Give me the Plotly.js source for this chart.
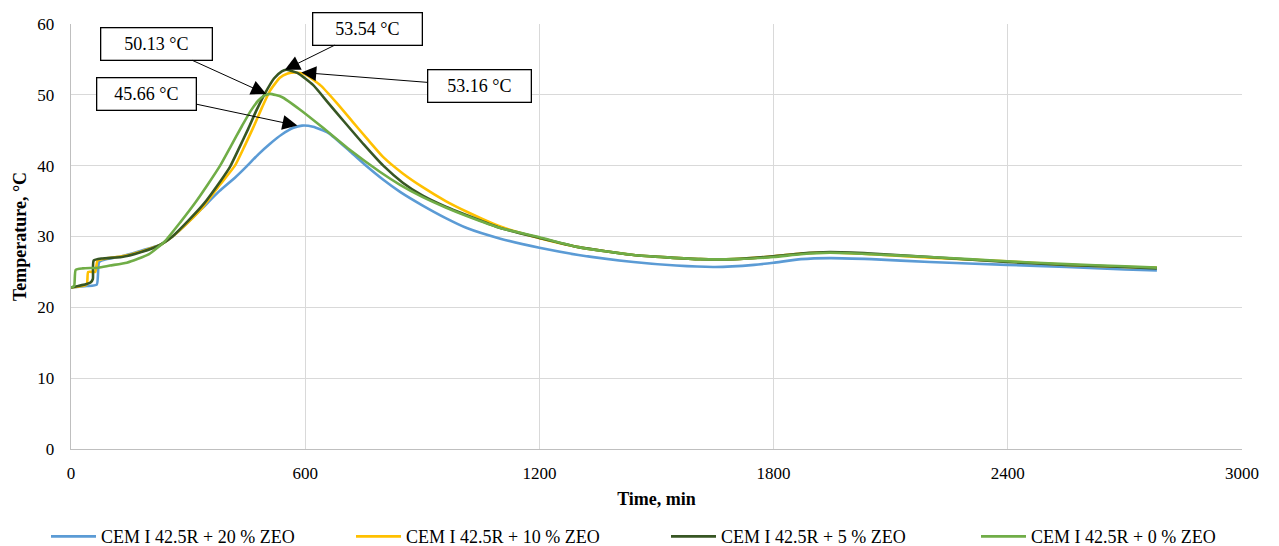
<!DOCTYPE html>
<html>
<head>
<meta charset="utf-8">
<script src="https://cdn.plot.ly/plotly-3.0.1.min.js"></script>
<style>
  html, body { margin: 0; padding: 0; background: #fff; }
  #chart { width: 1279px; height: 546px; }
</style>
</head>
<body>
<div id="chart"></div>
<script>
// Hydration temperature of cement pastes with zeolite replacement

const seriesNames = [
  'CEM I 42.5R + 20 % ZEO',
  'CEM I 42.5R + 10 % ZEO',
  'CEM I 42.5R + 5 % ZEO',
  'CEM I 42.5R + 0 % ZEO'
];
const seriesColors = ['#5b9bd5', '#ffc000', '#375623', '#70ad47'];

// 20 % ZEO
const timeZeo20 = [0, 40, 66, 72, 90, 130, 180, 228, 260, 300, 340, 380, 420, 450, 480, 510, 540, 570, 592, 620, 660, 715, 760, 800, 843, 900, 960, 1014, 1100, 1200, 1300, 1441, 1550, 1650, 1750, 1800, 1870, 1944, 2050, 2200, 2398, 2550, 2700, 2782];
const tempZeo20 = [22.8, 23.0, 23.2, 26.4, 26.8, 27.2, 28.0, 28.8, 30.0, 32.0, 34.2, 36.4, 38.3, 39.9, 41.6, 43.1, 44.4, 45.35, 45.66, 45.5, 44.6, 42.0, 39.8, 38.0, 36.3, 34.4, 32.6, 31.2, 29.7, 28.4, 27.4, 26.4, 25.9, 25.7, 26.0, 26.3, 26.8, 26.95, 26.8, 26.4, 26.0, 25.7, 25.35, 25.2];

// 10 % ZEO
const timeZeo10 = [0, 40, 44, 62, 68, 90, 130, 180, 228, 260, 300, 340, 380, 420, 445, 467, 490, 510, 535, 555, 574, 600, 640, 680, 720, 760, 800, 850, 900, 960, 1014, 1100, 1184, 1300, 1441, 1612, 1700, 1800, 1870, 1944, 2050, 2200, 2398, 2550, 2700, 2782];
const tempZeo10 = [22.8, 23.2, 25.0, 25.0, 26.6, 26.9, 27.2, 27.9, 28.8, 30.0, 32.0, 34.3, 37.2, 40.0, 42.8, 45.4, 48.3, 50.6, 52.4, 53.0, 53.16, 52.9, 51.3, 48.9, 46.3, 43.7, 41.2, 38.9, 37.0, 35.0, 33.5, 31.4, 30.0, 28.5, 27.4, 26.8, 26.8, 27.2, 27.6, 27.75, 27.5, 27.0, 26.5, 26.0, 25.7, 25.6];

// 5 % ZEO
const timeZeo5 = [0, 40, 50, 56, 58, 80, 130, 180, 228, 260, 300, 340, 380, 407, 430, 454, 475, 495, 520, 540, 551, 580, 620, 660, 700, 750, 800, 850, 900, 960, 1014, 1100, 1200, 1300, 1441, 1612, 1700, 1800, 1870, 1944, 2050, 2200, 2398, 2550, 2700, 2782];
const tempZeo5 = [22.8, 23.3, 23.5, 24.0, 26.6, 26.9, 27.1, 27.8, 28.8, 30.0, 32.2, 34.6, 37.6, 39.8, 42.4, 45.2, 47.8, 50.0, 52.3, 53.3, 53.54, 53.1, 51.4, 48.8, 46.2, 43.0, 40.0, 37.6, 35.8, 34.2, 33.0, 31.2, 29.8, 28.5, 27.4, 26.8, 26.8, 27.2, 27.6, 27.8, 27.6, 27.1, 26.4, 26.0, 25.7, 25.5];

// 0 % ZEO
const timeZeo0 = [0, 8, 12, 30, 70, 100, 143, 200, 240, 280, 320, 350, 382, 410, 438, 460, 480, 495, 510, 540, 587, 640, 715, 792, 843, 900, 960, 1014, 1100, 1200, 1300, 1441, 1612, 1700, 1800, 1870, 1944, 2050, 2200, 2398, 2550, 2700, 2782];
const tempZeo0 = [22.8, 23.0, 25.3, 25.5, 25.6, 25.9, 26.3, 27.5, 29.3, 32.0, 34.9, 37.3, 40.0, 42.8, 45.6, 47.7, 49.2, 49.9, 50.13, 49.7, 47.9, 45.6, 42.2, 39.1, 37.3, 35.6, 34.1, 32.9, 31.2, 29.9, 28.5, 27.4, 26.8, 26.8, 27.1, 27.5, 27.7, 27.5, 27.1, 26.5, 26.1, 25.8, 25.6];

const xTicks = [0, 600, 1200, 1800, 2400, 3000];
const yTicks = [0, 10, 20, 30, 40, 50, 60];

// Peak labels with the point each arrow targets
const peakLabels = ['45.66 °C', '53.16 °C', '53.54 °C', '50.13 °C'];
const peakTimes = [580, 590, 548, 500];
const peakValues = [45.66, 53.16, 53.54, 50.13];

const serif = 'Liberation Serif, Times New Roman, serif';

const times = [timeZeo20, timeZeo10, timeZeo5, timeZeo0];
const temps = [tempZeo20, tempZeo10, tempZeo5, tempZeo0];

// one single-entry legend per series, laid out in a row under the axis
const legendIds = ['legend', 'legend2', 'legend3', 'legend4'];
const legendLeftPx = [46, 351, 666, 976];

const traces = seriesNames.map((name, i) => ({
  type: 'scatter',
  mode: 'lines',
  name: name,
  legend: legendIds[i],
  x: times[i],
  y: temps[i],
  line: { color: seriesColors[i], width: 2.6, shape: 'spline', smoothing: 0.5 }
}));

// label box offsets from the arrow tip, in pixels
const boxOffsets = [[-151, -32], [178, 14], [83, -41], [-110, -50]];
const boxWidths = [92, 96, 102, 104];

const annotations = peakLabels.map((txt, i) => ({
  x: peakTimes[i],
  y: peakValues[i],
  xref: 'x',
  yref: 'y',
  text: txt,
  showarrow: true,
  ax: boxOffsets[i][0],
  ay: boxOffsets[i][1],
  arrowhead: 2,
  arrowsize: 3,
  arrowwidth: 1,
  arrowcolor: '#000',
  bgcolor: '#fff',
  bordercolor: '#000',
  borderwidth: 1.3,
  borderpad: 3,
  width: boxWidths[i],
  height: 25,
  font: { family: serif, size: 18, color: '#000' }
}));

const marginL = 71, marginR = 37;
const plotW = 1279 - marginL - marginR;

const layout = {
  width: 1279,
  height: 546,
  margin: { l: marginL, r: marginR, t: 24, b: 97 },
  paper_bgcolor: '#fff',
  plot_bgcolor: '#fff',
  showlegend: true,
  xaxis: {
    range: [0, 3000],
    tickvals: xTicks,
    ticktext: xTicks.map(String),
    showgrid: true,
    gridcolor: '#d9d9d9',
    gridwidth: 1.3,
    zeroline: false,
    showline: true,
    linecolor: '#bfbfbf',
    linewidth: 1.3,
    ticks: '',
    ticklabelstandoff: 8,
    tickfont: { family: serif, size: 17, color: '#000' },
    title: { text: '<b>Time, min</b>', font: { family: serif, size: 18, color: '#000' }, standoff: 10 }
  },
  yaxis: {
    range: [0, 60],
    tickvals: yTicks,
    ticktext: yTicks.map(String),
    showgrid: true,
    gridcolor: '#d9d9d9',
    gridwidth: 1.3,
    zeroline: false,
    showline: true,
    linecolor: '#bfbfbf',
    linewidth: 1.3,
    ticks: '',
    ticklabelstandoff: 12,
    tickfont: { family: serif, size: 17, color: '#000' },
    title: { text: '<b>Temperature, °C</b>', font: { family: serif, size: 18, color: '#000' }, standoff: 6 }
  },
  annotations: annotations
};

legendIds.forEach((id, i) => {
  layout[id] = {
    orientation: 'h',
    x: (legendLeftPx[i] - marginL) / plotW,
    xanchor: 'left',
    yref: 'container',
    y: 0.017,
    yanchor: 'middle',
    itemwidth: 45,
    bgcolor: 'rgba(0,0,0,0)',
    font: { family: serif, size: 18, color: '#000' }
  };
});

Plotly.newPlot('chart', traces, layout, { displayModeBar: false, staticPlot: true });
</script>
</body>
</html>
